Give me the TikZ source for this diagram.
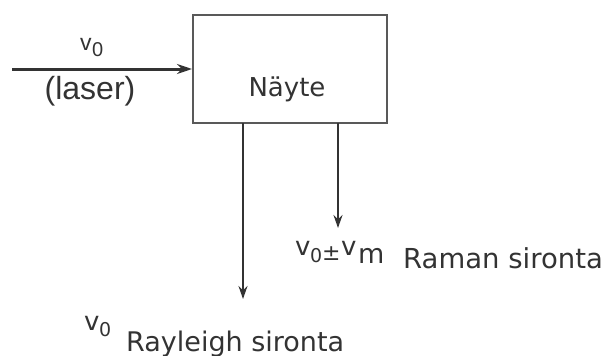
\documentclass[tikz,border=0pt]{standalone}
\usepackage{fontspec}
\setmainfont{Liberation Sans}
\newfontfamily\labfont{DejaVu Sans}
\usetikzlibrary{arrows.meta}
\begin{document}
\begin{tikzpicture}[x=1pt,y=-1pt,
  conn/.style={draw=black!80,line width=2pt,-{Stealth[length=13pt,width=9pt]}},
  txt/.style={inner sep=0pt,anchor=base west,text=black!80},
  box/.style={draw=black!65,line width=2pt,inner sep=0pt}]
\useasboundingbox (0,0) rectangle (608,356);
\node[box,minimum width=194pt,minimum height=108pt] (box) at (290,69) {};
\node[txt,anchor=base] (name) at (287,96) {\labfont\fontsize{26}{30}\selectfont Näyte};
\coordinate (in) at (12,69);
\draw[conn,line width=3pt,-{Stealth[length=15pt,width=10pt]}] (in) -- (box.west |- in);
\node[txt] (tv) at (80,50) {\fontsize{23}{26}\selectfont v};
\node[txt] (t0) at (92,56) {\fontsize{20}{24}\selectfont 0};
\node[txt,anchor=base] (laser) at (90,99) {\fontsize{32}{36}\selectfont (laser)};
\coordinate (rb) at (243,123);
\coordinate (re) at (243,299);
\coordinate (mb) at (338,123);
\coordinate (me) at (338,228);
\draw[conn] (rb) -- (re);
\draw[conn] (mb) -- (me);
% Raman label
\node[txt] (rv) at (295,255) {\labfont\fontsize{26}{30}\selectfont v};
\node[txt] (r0) at (310,262) {\labfont\fontsize{19}{22}\selectfont 0};
\node[txt] (rpm) at (322,260) {\labfont\fontsize{22}{26}\selectfont ±};
\node[txt] (rv2) at (341,255) {\labfont\fontsize{26}{30}\selectfont v};
\node[txt] (rm) at (358,263) {\labfont\fontsize{27}{30}\selectfont m};
\node[txt] (raman) at (403,268) {\labfont\fontsize{27.5}{32}\selectfont Raman sironta};
% Rayleigh label
\node[txt] (yv) at (84,330) {\labfont\fontsize{26}{30}\selectfont v};
\node[txt] (y0) at (99,336) {\labfont\fontsize{19}{22}\selectfont 0};
\node[txt] (rayl) at (126,351) {\labfont\fontsize{27}{32}\selectfont Rayleigh sironta};
\end{tikzpicture}
\end{document}
